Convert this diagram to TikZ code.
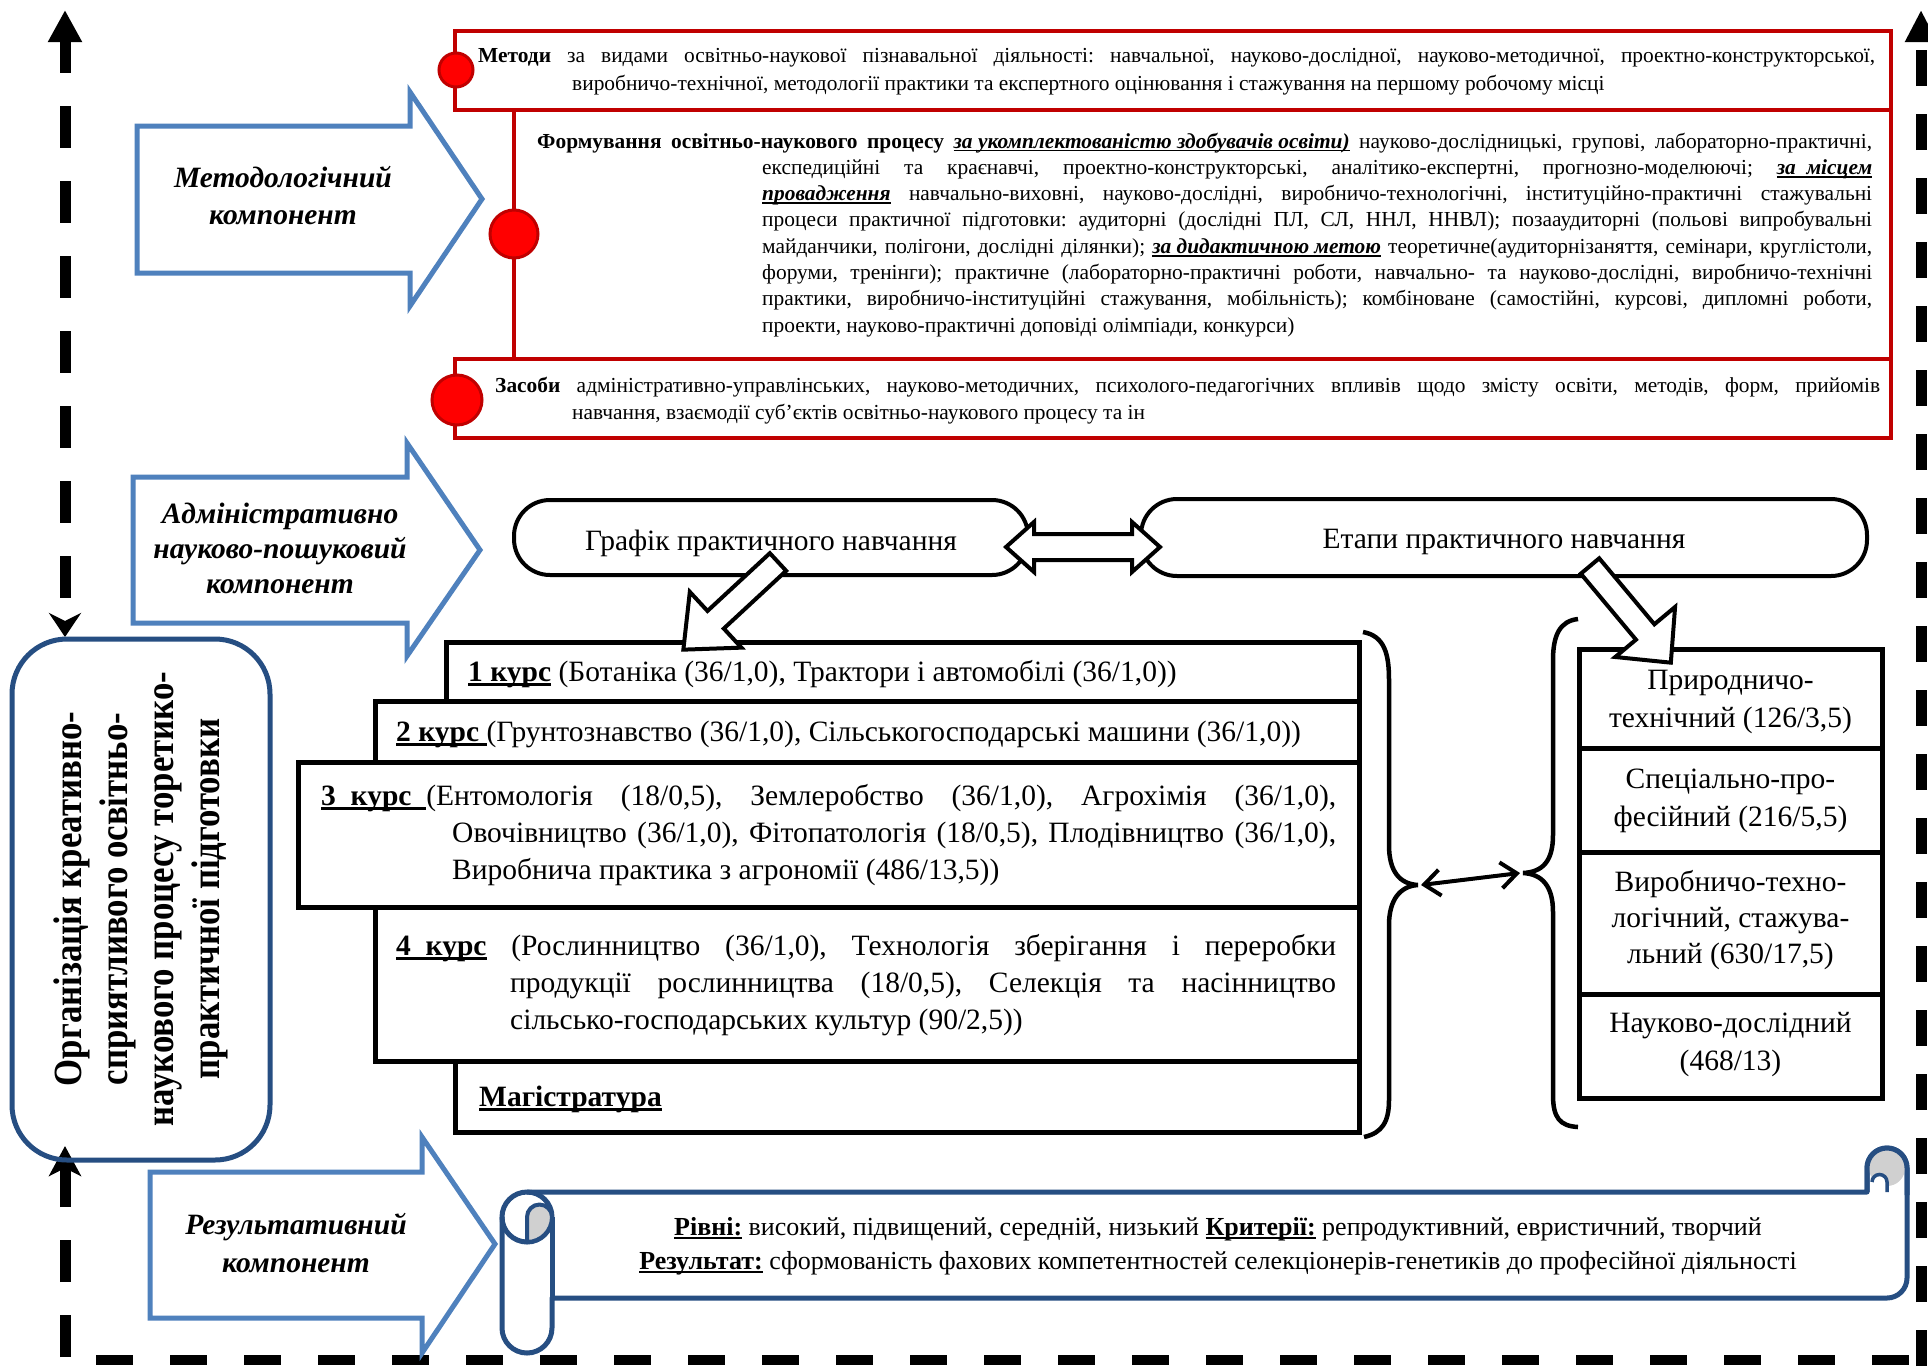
\documentclass[tikz,border=0pt]{standalone}
\usepackage{fontspec}
\setmainfont{Liberation Serif}
\newfontfamily\condfont[FakeStretch=0.87]{Liberation Serif}
\usetikzlibrary{arrows.meta}
\frenchspacing
\newcommand{\fsz}[2]{\fontsize{#1}{#2}\selectfont}
\newcommand{\myul}[1]{\leavevmode\setbox0\hbox{#1}\rlap{\rule[-0.16em]{\wd0}{0.08em}}\box0\relax}
\newcommand{\bu}[1]{\myul{\textbf{#1}}}
\newcommand{\biu}[1]{\myul{\textbf{\textit{#1}}}}
\definecolor{redline}{RGB}{192,0,0}
\definecolor{redfill}{RGB}{255,0,0}
\definecolor{lblue}{RGB}{79,129,189}
\definecolor{dblue}{RGB}{38,78,130}
\definecolor{curlgrey}{RGB}{208,208,208}
\begin{document}
\frenchspacing
\begin{tikzpicture}[x=1pt,y=-1pt,
  redbox/.style={draw=redline,line width=4.5,fill=white,inner sep=0,minimum width=1436,minimum height=79},
  redstroke/.style={draw=redline,line width=4.5},
  redcirc/.style={circle,draw=redline,fill=redfill,line width=3,inner sep=0},
  barrow/.style={draw=black,fill=white,line width=4,line join=miter},
  bluearrow/.style={draw=lblue,fill=white,line width=5,line join=miter},
  cbox/.style={draw=black,fill=white,line width=5,inner sep=0},
  sbox/.style={draw=black,fill=white,line width=5,inner sep=0,minimum width=303},
  pill/.style={draw=black,fill=white,line width=4,rounded corners=36,inner sep=0},
  dashv/.style={line width=11,dash pattern=on 42pt off 33pt},
  dashr/.style={line width=11,dash pattern=on 36pt off 28pt},
  dashh/.style={line width=10,dash pattern=on 37pt off 37pt},
  scrollst/.style={draw=dblue,fill=white,line width=5,line join=round},
  scrollln/.style={draw=dblue,line width=5},
  txt/.style={inner sep=0,anchor=base west},
  ctxt/.style={inner sep=0,anchor=base},
  brace/.style={draw=black,line width=4.5}]
\useasboundingbox (0,0) rectangle (1928,1366);
\fill[white] (0,0) rectangle (1928,1366);

% ---------- dashed frame ----------
\coordinate (lt) at (65,10);
\coordinate (lb) at (65,637);
\coordinate (bt) at (65,1146);
\coordinate (bb) at (65,1357);
\coordinate (hl) at (96,1360);
\coordinate (hr) at (1928,1360);
\coordinate (rt) at (1921,10);
\coordinate (rb) at (1921,1366);
\draw[dashv,dash phase=9pt,{Triangle[length=32pt,width=32pt]}-{Stealth[length=24pt,width=32pt,inset=8pt]}] (lt) -- (lb);
\draw[dashv,-{Stealth[length=30pt,width=32pt,inset=8pt]}] (bb) -- (bt);
\draw[dashh] (hl) -- (hr);
\draw[dashr,-{Triangle[length=32pt,width=30pt]}] (rb) -- (rt);

% ---------- left rounded box ----------
\node[draw=dblue,line width=5,rounded corners=55,minimum width=258,minimum height=521,inner sep=0] (org) at (141,899.5) {};
\node[inner sep=0,rotate=90] (orgt) at (141,899) {\parbox{500pt}{\centering\condfont\bfseries\fsz{40}{46}Організація креативно-\\сприятливого освітньо-\\наукового процесу торетико-\\практичної підготовки}};

% ---------- blue arrows ----------
\draw[bluearrow] (137,126) -- (410,126) -- (410,92) -- (482,199) -- (410,306) -- (410,273) -- (137,273) -- cycle;
\draw[bluearrow] (133,477) -- (407,477) -- (407,443) -- (480,550) -- (407,656) -- (407,623) -- (133,623) -- cycle;
\draw[bluearrow] (150,1172) -- (422,1172) -- (422,1137) -- (495,1244) -- (422,1353) -- (422,1318) -- (150,1318) -- cycle;
\node[ctxt] (a1t) at (283,187) {\parbox[t]{320pt}{\centering\fsz{29.5}{37}\bfseries\itshape Методологічний\\компонент}};
\node[ctxt] (a2t) at (280,523) {\parbox[t]{320pt}{\centering\fsz{29.5}{35}\bfseries\itshape Адміністративно\\науково-пошуковий\\компонент}};
\node[ctxt] (a3t) at (296,1234) {\parbox[t]{320pt}{\centering\fsz{29.5}{38}\bfseries\itshape Результативний\\компонент}};

% ---------- red boxes ----------
\node[redbox] (m1) at (1173,70.5) {};
\node[redbox] (m3) at (1173,398.5) {};
\node[inner sep=0,minimum width=1377,minimum height=249] (m2) at (1202.5,234.5) {};
\draw[redstroke] (m2.north west) -- (m2.south west);
\draw[redstroke] (m2.north east) -- (m2.south east);
\node[redcirc,minimum size=34] (c1) at (456,70) {};
\node[redcirc,minimum size=48] (c2) at (514,234) {};
\node[redcirc,minimum size=50] (c3) at (457,400) {};

\node[txt] (m1t) at (478,62) {\parbox[t]{1397pt}{\fsz{21.4}{28}\hangindent=94pt\hangafter=1 \textbf{Методи} за видами освітньо-наукової пізнавальної діяльності: навчальної, науково-дослідної, науково-методичної, проектно-конструкторської,\linebreak виробничо-технічної, методології практики та експертного оцінювання і стажування на першому робочому місці}};

\node[txt] (m2t) at (537,148) {\parbox[t]{1335pt}{\fsz{21.4}{26.3}\hangindent=225pt\hangafter=1 \textbf{Формування освітньо-наукового процесу} \biu{за укомплектованістю здобувачів освіти)} науково-дослідницькі, групові, лабораторно-практичні,\linebreak експедиційні та краєнавчі, проектно-конструкторські, аналітико-експертні, прогнозно-моделюючі; \biu{за \ місцем}\linebreak \biu{провадження} навчально-виховні, науково-дослідні, виробничо-технологічні, інституційно-практичні стажувальні\linebreak процеси практичної підготовки: аудиторні (дослідні ПЛ, СЛ, ННЛ, ННВЛ); позааудиторні (польові випробувальні\linebreak майданчики, полігони, дослідні ділянки); \biu{за дидактичною метою} теоретичне(аудиторнізаняття, семінари, круглістоли,\linebreak форуми, тренінги); практичне (лабораторно-практичні роботи, навчально- та науково-дослідні, виробничо-технічні\linebreak практики, виробничо-інституційні стажування, мобільність); комбіноване (самостійні, курсові, дипломні роботи,\linebreak проекти, науково-практичні доповіді олімпіади, конкурси)}};

\node[txt] (m3t) at (495,392) {\parbox[t]{1385pt}{\fsz{21.4}{27}\hangindent=77pt\hangafter=1 \textbf{Засоби} адміністративно-управлінських, науково-методичних, психолого-педагогічних впливів щодо змісту освіти, методів, форм, прийомів\linebreak навчання, взаємодії суб’єктів освітньо-наукового процесу та ін}};

% ---------- pills ----------
\node[pill,minimum width=514,minimum height=75] (graf) at (771,537.5) {};
\node[pill,minimum width=726,minimum height=77] (etap) at (1504,537.5) {};
\node[ctxt] (graft) at (771,550) {\fsz{29.5}{37}Графік практичного навчання};
\node[ctxt] (etapt) at (1504,548) {\fsz{29.5}{37}Етапи практичного навчання};
\coordinate (dl) at (1006,547);
\coordinate (dr) at (1160,547);
\draw[barrow] (dl) -- ++(28,-25) -- ++(0,12) -- ++(98,0) -- ++(0,-12) -- (dr) -- ++(-28,25) -- ++(0,-12) -- ++(-98,0) -- ++(0,12) -- cycle;

% ---------- course boxes ----------
\node[cbox,minimum width=913,minimum height=59] (k1) at (902.5,671.5) {};
\node[cbox,minimum width=984,minimum height=61] (k2) at (867,731.5) {};
\node[cbox,minimum width=1061,minimum height=145] (k3) at (828.5,834.5) {};
\node[cbox,minimum width=984,minimum height=154] (k4) at (867,984) {};
\node[cbox,minimum width=904,minimum height=71] (k5) at (907,1096.5) {};

\node[txt] (k1t) at (468,681) {\fsz{29.5}{37}\bu{1 курс} (Ботаніка (36/1,0), Трактори і автомобілі (36/1,0))};
\node[txt] (k2t) at (396,741) {\fsz{29.5}{37}\bu{2 курс }(Грунтознавство (36/1,0), Сільськогосподарські машини (36/1,0))};
\node[txt] (k3t) at (321,805) {\parbox[t]{1015pt}{\fsz{29.5}{37}\hangindent=131pt\hangafter=1 \bu{3 \ курс \ }(Ентомологія (18/0,5), Землеробство (36/1,0), Агрохімія (36/1,0),\linebreak Овочівництво (36/1,0), Фітопатологія (18/0,5), Плодівництво (36/1,0),\linebreak Виробнича практика з агрономії (486/13,5))}};
\node[txt] (k4t) at (396,955) {\parbox[t]{940pt}{\fsz{29.5}{37}\hangindent=114pt\hangafter=1 \bu{4 \ курс} (Рослинництво (36/1,0), Технологія зберігання і переробки\linebreak продукції рослинництва (18/0,5), Селекція та насінництво\linebreak сільсько-господарських культур (90/2,5))}};
\node[txt] (k5t) at (479,1106) {\fsz{29.5}{37}\bu{Магістратура}};

% ---------- stage boxes ----------
\node[sbox,minimum height=99] (s1) at (1730.5,698.5) {};
\node[sbox,minimum height=104] (s2) at (1730.5,800) {};
\node[sbox,minimum height=142] (s3) at (1730.5,923) {};
\node[sbox,minimum height=104] (s4) at (1730.5,1046) {};
\node[ctxt] (s1t) at (1730.5,689) {\parbox[t]{300pt}{\centering\fsz{29.5}{38}Природничо-\\технічний (126/3,5)}};
\node[ctxt] (s2t) at (1730.5,788) {\parbox[t]{300pt}{\centering\fsz{29.5}{38}Спеціально-про-\\фесійний (216/5,5)}};
\node[ctxt] (s3t) at (1730.5,891) {\parbox[t]{300pt}{\centering\fsz{29.5}{36}Виробничо-техно-\\логічний, стажува-\\льний (630/17,5)}};
\node[ctxt] (s4t) at (1730.5,1032) {\parbox[t]{300pt}{\centering\fsz{29.5}{38}Науково-дослідний\\(468/13)}};

% ---------- block arrows ----------
\coordinate (la0) at (778,562);
\begin{scope}[shift={(la0)},rotate=222.8]
  \draw[barrow] (0,-12) -- (85,-12) -- (85,-38) -- (129,0) -- (85,38) -- (85,12) -- (0,12) -- cycle;
\end{scope}
\coordinate (ra0) at (1590,566);
\begin{scope}[shift={(ra0)},rotate=-50.1]
  \draw[barrow] (0,-12) -- (86,-12) -- (86,-39) -- (126,0) -- (86,39) -- (86,12) -- (0,12) -- cycle;
\end{scope}

% ---------- braces ----------
\coordinate (lbc) at (1418,885);
\coordinate (rbc) at (1523,873);
\draw[brace] (1363,632) .. controls (1385,636) and (1389,655) .. (1389,680) -- (1389,845) .. controls (1389,872) and (1400,884) .. (lbc) .. controls (1400,886) and (1389,900) .. (1389,925) -- (1389,1100) .. controls (1389,1122) and (1382,1133) .. (1364,1137);
\draw[brace] (1578,619) .. controls (1560,621) and (1553,635) .. (1553,660) -- (1553,835) .. controls (1553,862) and (1542,872) .. (rbc) .. controls (1542,874) and (1553,886) .. (1553,912) -- (1553,1095) .. controls (1553,1118) and (1560,1126) .. (1578,1127);
\draw[line width=4,{Straight Barb[length=16pt,width=26pt]}-{Straight Barb[length=16pt,width=26pt]}] ([xshift=3pt]lbc) -- ([xshift=-3pt]rbc);

% ---------- scroll ----------
\path[scrollst] (527,1192) -- (1867,1192) -- (1867,1168) arc[start angle=180,end angle=360,radius=20] -- (1907,1278) arc[start angle=0,end angle=90,radius=20] -- (552,1298) -- (552,1328) arc[start angle=0,end angle=180,radius=25] -- (502,1217) arc[start angle=180,end angle=270,radius=25] -- cycle;
\draw[scrollln] (552,1217) arc[start angle=0,end angle=-90,radius=25];
\draw[scrollln] (552,1217) -- (552,1298);
\draw[scrollln] (502,1217) arc[start angle=180,end angle=0,radius=25];
\filldraw[fill=curlgrey,draw=dblue,line width=4,line join=round] (527,1242) -- (527,1217) arc[start angle=180,end angle=360,radius=12.5] arc[start angle=0,end angle=90,radius=25] -- cycle;
\fill[curlgrey] (1887,1168) circle[radius=18];
\fill[white] (1872,1192) -- (1872,1182) arc[start angle=180,end angle=360,radius=7.5] -- (1887,1192) -- cycle;
\draw[draw=dblue,line width=3.5] (1887,1192) -- (1887,1182) arc[start angle=0,end angle=-180,radius=7.5];
\draw[scrollln,line join=round] (1867,1192) -- (1867,1168) arc[start angle=180,end angle=360,radius=20] -- (1907,1195);
\node[ctxt] (rest) at (1218,1235) {\parbox[t]{1400pt}{\centering\fsz{26}{34}\bu{Рівні:} високий, підвищений, середній, низький \bu{Критерії:} репродуктивний, евристичний, творчий\\\bu{Результат:} сформованість фахових компетентностей селекціонерів-генетиків до професійної діяльності}};
\end{tikzpicture}
\end{document}
